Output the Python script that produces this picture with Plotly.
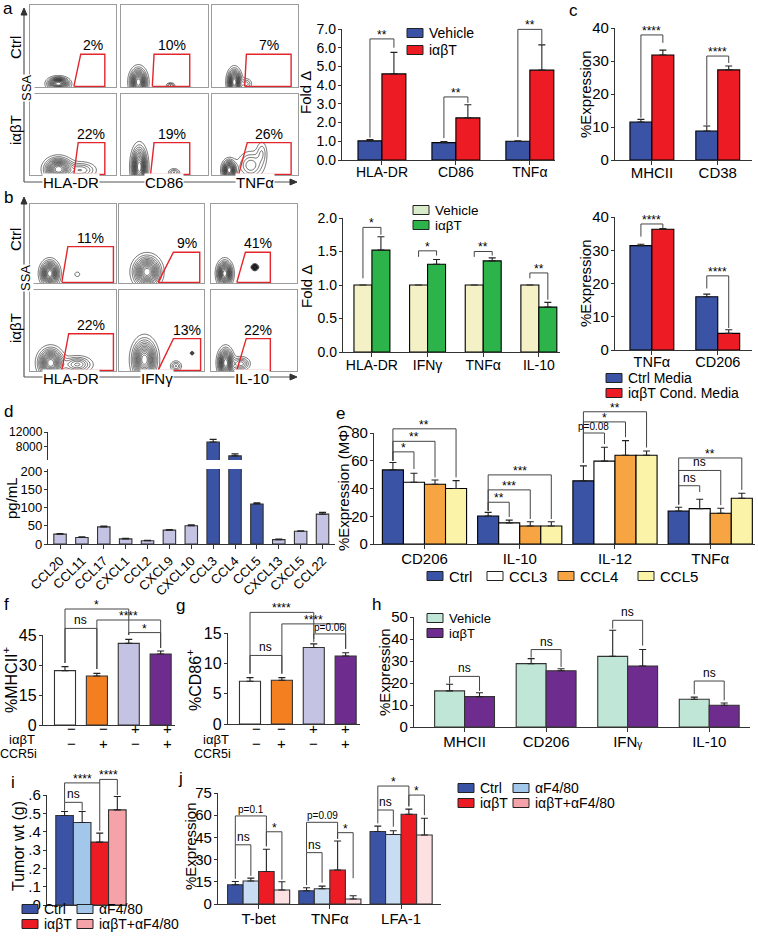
import numpy as np
import plotly.graph_objects as go

W, H = 758, 945
FONT = "Liberation Sans, Arial, Helvetica, sans-serif"
AX = "#333333"

# ------------------------------------------------------------------ colours
BLUE = "#3a53a4"; RED = "#ed1c24"; GREEN = "#2cb34a"; PALE = "#f3f1c5"
LAV = "#c5c3e3"; ORANGE_E = "#f7a443"; YELLOW_E = "#fbf4a8"; ORANGE_F = "#f47f20"
PURPLE = "#6f2c8f"; MINT = "#c0e6d7"; LBLUE_I = "#a2c7ea"; PINK_I = "#f5a3a8"
LBLUE_J = "#c9ddf2"; PINK_J = "#fde0e2"; WHITE = "#ffffff"; GATE = "#e3262c"

# ------------------------------------------------------------------ DATA
# panel a (flow)
flow_a_markers = ["HLA-DR", "CD86", "TNFα"]
flow_a_pct = [["2%", "10%", "7%"], ["22%", "19%", "26%"]]
flow_a_gates = [[(51, 59, 87, 40), (36, 38, 79, 40), (38, 40, 92, 40)],
                [(51, 56, 87, 40), (34, 38, 79, 40), (31, 41, 92, 40)]]
flow_a_blobs = [[[(33, 4, 7, 4.5, 1.0)],
                 [(20, 6, 5.5, 9.5, 1.0), (57, 2, 3, 2, 0.3)],
                 [(26, 6, 4.5, 9, 1.0), (40, 4, 4, 4, 0.25)]],
                [[(33, 7, 9, 8, 1.0), (60, 6, 10, 6, 0.35)],
                 [(21, 10, 5, 14, 1.0), (61, 3, 4, 3, 0.3)],
                 [(20, 6, 4.5, 7, 1.0), (45, 12, 9, 10, 0.35), (58, 28, 4, 9, 0.2)]]]
# panel b (flow)
flow_b_markers = ["HLA-DR", "IFNγ", "IL-10"]
flow_b_pct = [["11%", "9%", "41%"], ["22%", "13%", "22%"]]
flow_b_gates = [[(37, 44, 97, 46), (46, 64, 95, 39), (30, 40, 69, 39)],
                [(37, 45, 97, 46), (46, 64, 96, 40), (30, 41, 69, 40)]]
flow_b_blobs = [[[(23, 12, 6, 9, 1.0), (55, 11, 2.5, 2.5, 0.15)],
                 [(33, 14, 9, 11, 1.0)],
                 [(16, 12, 5, 9, 1.0), (51, 20, 2, 2, 1.0)]],
                [[(24, 10, 8, 10, 1.0), (55, 8, 10, 6, 0.45)],
                 [(30, 14, 8, 14, 1.0), (67, 6, 4, 4, 0.3), (86, 22, 1.2, 1.2, 0.4)],
                 [(17, 10, 5, 10, 1.0), (35, 9, 6, 5, 0.4)]]]
flow_rows = ["Ctrl", "iαβT"]

# panel a (bars)
cats_a = ["HLA-DR", "CD86", "TNFα"]
a_vehicle = [1.02, 0.93, 1.00]; a_vehicle_err = [0.07, 0.05, 0.03]
a_iabt = [4.60, 2.25, 4.80];    a_iabt_err = [1.15, 0.70, 1.35]
a_brackets = [(0, 0, 1, 6.47, 1.2, 6.0, "**"), (1, 0, 1, 3.37, 1.17, 3.05, "**"),
              (2, 0, 1, 6.98, 1.23, 6.15, "**")]

# panel b (bars)
cats_b = ["HLA-DR", "IFNγ", "TNFα", "IL-10"]
b_vehicle = [1.0, 1.0, 1.0, 1.0]; b_vehicle_err = [0, 0, 0, 0]
b_iabt = [1.52, 1.31, 1.36, 0.67]; b_iabt_err = [0.20, 0.07, 0.045, 0.07]
b_brackets = [(0, 0, 1, 1.86, 1.1, 1.75, "*"), (1, 0, 1, 1.51, 1.42, 1.44, "*"),
              (2, 0, 1, 1.50, 1.42, 1.44, "**"), (3, 0, 1, 1.18, 1.1, 0.78, "**")]

# panel c
cats_c1 = ["MHCII", "CD38"]
c1_ctrl = [11.5, 8.8]; c1_ctrl_err = [0.8, 1.5]
c1_cond = [31.8, 27.3]; c1_cond_err = [1.5, 1.2]
c1_brackets = [(0, 0, 1, 37.9, 12.8, 35.5, "****"), (1, 0, 1, 31.5, 10.5, 29.4, "****")]
cats_c2 = ["TNFα", "CD206"]
c2_ctrl = [31.4, 16.0]; c2_ctrl_err = [0.4, 0.8]
c2_cond = [36.3, 5.0]; c2_cond_err = [0.2, 1.1]
c2_brackets = [(0, 0, 1, 37.9, 34.1, 36.6, "****"), (1, 0, 1, 22.3, 18.5, 6.6, "****")]

# panel d
cats_d = ["CCL20", "CCL11", "CCL17", "CXCL1", "CCL2", "CXCL9", "CXCL10",
          "CCL3", "CCL4", "CCL5", "CXCL13", "CXCL5", "CCL22"]
d_values = [27, 18, 47, 14, 9, 38, 50, 9300, 5550, 110, 12, 35, 82]
d_err = [1.5, 1.5, 2, 1.5, 1, 1.5, 3, 700, 550, 3, 1.5, 1.5, 5]
d_highlight = ["CCL3", "CCL4", "CCL5"]

# panel e
cats_e = ["CD206", "IL-10", "IL-12", "TNFα"]
e_names = ["Ctrl", "CCL3", "CCL4", "CCL5"]
e_ctrl = [53.4, 20.2, 45.5, 23.8]; e_ctrl_err = [5.3, 2.6, 10.8, 2.7]
e_ccl3 = [44.5, 15.2, 59.7, 25.5]; e_ccl3_err = [6.5, 2.0, 10.0, 6.8]
e_ccl4 = [43.1, 13.0, 64.0, 22.2]; e_ccl4_err = [3.0, 3.0, 10.5, 3.6]
e_ccl5 = [40.0, 13.0, 64.0, 33.0]; e_ccl5_err = [5.7, 3.0, 3.0, 3.6]
e_brackets = [(0, 0, 1, 66.4, 60, 54, "*"), (0, 0, 2, 74, 60, 48, "**"), (0, 0, 3, 83, 60, 48, "**"),
              (1, 0, 1, 30.1, 24, 19.5, "**"), (1, 0, 2, 39, 24, 18, "***"), (1, 0, 3, 49.8, 24, 18, "***"),
              (2, 0, 1, 80, 58.5, 72, "p=0.08"), (2, 0, 2, 88, 58.5, 77, "*"), (2, 0, 3, 95.3, 58.5, 69.5, "**"),
              (3, 0, 1, 42, 28.5, 37.5, "ns"), (3, 0, 2, 53, 28.5, 28, "ns"), (3, 0, 3, 62, 28.5, 39, "**")]

# panels f, g
fg_iabt = ["−", "−", "+", "+"]
fg_ccr5i = ["−", "+", "−", "+"]
f_values = [27.2, 24.5, 40.8, 35.5]; f_err = [2.0, 1.3, 2.0, 1.5]
f_brackets = [(0, 2, 58, 31, 45, "*"), (0, 1, 48.3, 31, 28, "ns"),
              (1, 3, 52.5, 28, 38.5, "****"), (2, 3, 46.2, 45, 38.5, "*")]
g_values = [7.05, 7.2, 12.6, 11.2]; g_err = [0.6, 0.45, 0.6, 0.55]
g_brackets = [(0, 2, 18.4, 8.3, 14, "****"), (0, 1, 11.3, 8.3, 8.3, "ns"),
              (1, 3, 16.5, 8.3, 12.4, "****"), (2, 3, 14.85, 13.5, 12.4, "p=0.06")]

# panel h
cats_h = ["MHCII", "CD206", "IFNᵧ", "IL-10"]
h_vehicle = [16.4, 28.8, 32.1, 12.6]; h_vehicle_err = [3.0, 2.3, 11.9, 1.0]
h_iabt = [13.8, 25.6, 27.7, 9.9];     h_iabt_err = [1.8, 0.9, 7.5, 1.0]
h_brackets = [(0, 0, 1, 23, 19.8, 16.4, "ns"), (1, 0, 1, 35.2, 31.5, 27.3, "ns"),
              (2, 0, 1, 48.5, 44.7, 37, "ns"), (3, 0, 1, 20.9, 14.9, 12.1, "ns")]

# panel i
i_groups = ["Ctrl", "αF4/80", "iαβT", "iαβT+αF4/80"]
i_values = [0.488, 0.45, 0.343, 0.519]; i_err = [0.022, 0.06, 0.049, 0.073]
i_brackets = [(0, 1, 0.56, 0.515, 0.515, "ns"), (0, 2, 0.666, 0.56, 0.405, "****"),
              (2, 3, 0.685, 0.666, 0.60, "****")]

# panel j
cats_j = ["T-bet", "TNFα", "LFA-1"]
j_ctrl = [13, 9, 49];        j_ctrl_err = [2.2, 2.0, 3.6]
j_af = [15.5, 10.3, 47];     j_af_err = [2.0, 1.8, 2.5]
j_iabt = [22, 23, 60.6];     j_iabt_err = [15, 19.6, 3.5]
j_combo = [9.5, 3.4, 46.6];  j_combo_err = [5.5, 2.2, 11.3]
j_brackets = [(0, 0, 1, 40, 17, 19, "ns"), (0, 0, 2, 59.5, 40, 39, "p=0.1"), (0, 2, 3, 48.8, 39, 16.5, "*"),
              (1, 0, 1, 34.7, 12.8, 14.4, "ns"), (1, 0, 2, 55.2, 34.7, 44, "p=0.09"), (1, 2, 3, 48.2, 44, 17.4, "*"),
              (2, 0, 1, 63.5, 54.5, 52.2, "ns"), (2, 0, 2, 79.7, 63.5, 66, "*"), (2, 2, 3, 73.6, 66, 60, "*")]

# ------------------------------------------------------------------ helpers
traces, shapes, annotations = [], [], []
layout = dict(width=W, height=H, margin=dict(l=0, r=0, t=0, b=0, pad=0, autoexpand=False),
              paper_bgcolor="white", plot_bgcolor="rgba(0,0,0,0)",
              font=dict(family=FONT, size=14, color="black"),
              barmode="overlay", showlegend=False)

P = {}


def panel(name, n, xpx, ypx, xr, yr, w=None, nk=1):
    P[name] = dict(n=n, xpx=xpx, ypx=ypx, xr=xr, yr=yr, w=w, nk=nk)


def sfx(n):
    return "" if n == 1 else str(n)


def xp(name, v):
    p = P[name]; x0, x1 = p["xpx"]; r0, r1 = p["xr"]
    return (x0 + (v - r0) / (r1 - r0) * (x1 - x0)) / W


def yp(name, v):
    p = P[name]; top, bot = p["ypx"]; r0, r1 = p["yr"]
    return 1 - (bot - (v - r0) / (r1 - r0) * (bot - top)) / H


def PX(x):
    return x / W


def PY(y):
    return 1 - y / H


def set_axes(name, xtickvals=None, xticktext=None, ytickvals=None, yticktext=None,
             xfont=14, yfont=14, xline=True, xticks="outside", xangle=None, xstandoff=-4):
    p = P[name]; s = sfx(p["n"])
    x0, x1 = p["xpx"]; top, bot = p["ypx"]
    xa = dict(domain=[x0 / W, x1 / W], range=p["xr"], anchor="y" + s, showgrid=False,
              zeroline=False, showline=xline, linecolor=AX, linewidth=1.3, ticks=xticks,
              ticklen=4, tickwidth=1.2, tickcolor=AX, fixedrange=True, automargin=False,
              showticklabels=xticktext is not None, tickfont=dict(size=xfont),
              ticklabelstandoff=xstandoff)
    if xtickvals is not None:
        xa.update(tickmode="array", tickvals=xtickvals, ticktext=xticktext)
    if xangle is not None:
        xa["tickangle"] = xangle
    ya = dict(domain=[1 - bot / H, 1 - top / H], range=p["yr"], anchor="x" + s, showgrid=False,
              zeroline=False, showline=True, linecolor=AX, linewidth=1.3, ticks="outside",
              ticklen=3, tickwidth=1.2, tickcolor=AX, fixedrange=True, automargin=False,
              ticklabelstandoff=-1,
              tickmode="array", tickvals=ytickvals, ticktext=yticktext, tickfont=dict(size=yfont))
    layout["xaxis" + s] = xa
    layout["yaxis" + s] = ya


def add_bars(name, y, err, color, k=0, lc="black", x=None):
    p = P[name]; s = sfx(p["n"]); w = p["w"]; nk = p["nk"]
    if x is None:
        x = list(range(len(y)))
    traces.append(go.Bar(
        x=x, y=y, width=w, offset=-nk * w / 2 + k * w,
        xaxis="x" + s, yaxis="y" + s,
        marker=dict(color=color, line=dict(color=lc, width=1.1)),
        error_y=dict(type="data", array=err, arrayminus=[0] * len(err), symmetric=False,
                     color="#222", thickness=1.1, width=3.5),
        hoverinfo="skip"))


def center(name, g, k):
    p = P[name]; w = p["w"]; nk = p["nk"]
    return g - nk * w / 2 + w * (k + 0.5)


def bracket(name, xa, xb, top, ya, yb, text):
    x1, x2 = xp(name, xa), xp(name, xb)
    yt, y1, y2 = yp(name, top), yp(name, ya), yp(name, yb)
    shapes.append(dict(type="path", xref="paper", yref="paper",
                       path=f"M{x1},{y1} L{x1},{yt} L{x2},{yt} L{x2},{y2}",
                       line=dict(color="#444", width=1)))
    star = text.startswith("*")
    fs = 12 if (star or text == "ns") else 10
    annotations.append(dict(x=(x1 + x2) / 2, y=yt, xref="paper", yref="paper", text=text,
                            showarrow=False, xanchor="center", yanchor="bottom",
                            yshift=-5 if star else -1, font=dict(size=fs)))


def grouped_brackets(name, lst):
    for g, k1, k2, top, ya, yb, t in lst:
        bracket(name, center(name, g, k1), center(name, g, k2), top, ya, yb, t)


def single_brackets(name, lst):
    for i1, i2, top, ya, yb, t in lst:
        bracket(name, i1, i2, top, ya, yb, t)


def text(px, py, t, size=14, xanchor="center", yanchor="middle", angle=0, bg=None):
    a = dict(x=PX(px), y=PY(py), xref="paper", yref="paper", text=t, showarrow=False,
             xanchor=xanchor, yanchor=yanchor, textangle=angle, font=dict(size=size))
    if bg:
        a["bgcolor"] = bg
        a["borderpad"] = 0
    annotations.append(a)


def legend_item(px, py, color, label, sw=16, sh=9, size=14):
    shapes.append(dict(type="rect", xref="paper", yref="paper",
                       x0=PX(px), x1=PX(px + sw), y0=PY(py + sh / 2), y1=PY(py - sh / 2),
                       fillcolor=color, line=dict(color="#222", width=1)))
    text(px + sw + 4, py, label, size=size, xanchor="left")


def pxpath(points, fill="black"):
    path = "M" + " L".join(f"{PX(x)},{PY(y)}" for x, y in points) + " Z"
    shapes.append(dict(type="path", xref="paper", yref="paper", path=path,
                       fillcolor=fill, line=dict(color=fill, width=1)))


def pxline(x0, y0, x1, y1, color="#555", width=1.2):
    shapes.append(dict(type="line", xref="paper", yref="paper", x0=PX(x0), y0=PY(y0),
                       x1=PX(x1), y1=PY(y1), line=dict(color=color, width=width)))


# ------------------------------------------------------------------ flow plots
GX, GY = np.meshgrid(np.linspace(0, 100, 101), np.linspace(0, 100, 101))
axis_n = 13


def flow_block(cols, rows, gates, pcts, blobs, markers, vline, hline_y, row_lbl_y, ssa_y, marker_x):
    global axis_n
    for r, (ytop, ybot) in enumerate(rows):
        for c, (xl, xr) in enumerate(cols):
            n = axis_n; axis_n += 1; s = str(n)
            layout["xaxis" + s] = dict(domain=[xl / W, xr / W], range=[0, 100], anchor="y" + s,
                                       showgrid=False, zeroline=False, showline=True, mirror=True,
                                       linecolor="#9c9c9c", linewidth=1, showticklabels=False,
                                       ticks="", fixedrange=True, automargin=False)
            layout["yaxis" + s] = dict(domain=[1 - ybot / H, 1 - ytop / H], range=[0, 100],
                                       anchor="x" + s, showgrid=False, zeroline=False, showline=True,
                                       mirror=True, linecolor="#9c9c9c", linewidth=1,
                                       showticklabels=False, ticks="", fixedrange=True,
                                       automargin=False)
            z = np.zeros_like(GX)
            for cx, cy, sx, sy, amp in blobs[r][c]:
                z += amp * np.exp(-((GX - cx) ** 2 / (2 * sx ** 2) + (GY - cy) ** 2 / (2 * sy ** 2)))
            traces.append(go.Contour(x=GX[0], y=GY[:, 0], z=z, xaxis="x" + s, yaxis="y" + s,
                                     contours=dict(coloring="lines", start=0.08, end=0.98, size=0.07),
                                     line=dict(width=0.6), colorscale=[[0, "#111"], [1, "#111"]],
                                     showscale=False, hoverinfo="skip"))
            bl, tl, tr, top = gates[r][c]
            traces.append(go.Scatter(x=[bl, tl, tr, tr, bl], y=[0.8, top, top, 0.8, 0.8],
                                     mode="lines", line=dict(color=GATE, width=1.4),
                                     xaxis="x" + s, yaxis="y" + s, hoverinfo="skip"))
            annotations.append(dict(x=(tl + tr) / 2, y=top, xref="x" + s, yref="y" + s,
                                    text=pcts[r][c], showarrow=False, yanchor="bottom",
                                    yshift=-1, font=dict(size=14)))
    vx, vtop = vline
    pxline(vx, hline_y, vx, vtop + 5)
    pxpath([(vx - 3, vtop + 7), (vx, vtop), (vx + 3, vtop + 7)], fill="#333")
    pxline(vx, hline_y, 292, hline_y)
    pxpath([(290, hline_y - 3), (297, hline_y), (290, hline_y + 3)], fill="#333")
    for mx, m in zip(marker_x, markers):
        text(mx, hline_y + 1, m, size=15, bg="white")
    text(vx + 2, ssa_y, "SSA", size=13, angle=-90, bg="white")
    for ry, lbl in zip(row_lbl_y, flow_rows):
        text(15, ry, lbl, size=15, angle=-90)


flow_block(cols=[(30, 116), (121, 208), (212, 298)], rows=[(5, 87), (94, 175)],
           gates=flow_a_gates, pcts=flow_a_pct, blobs=flow_a_blobs, markers=flow_a_markers,
           vline=(24, 8), hline_y=182, row_lbl_y=[48, 130], ssa_y=88, marker_x=[71, 164, 255])
flow_block(cols=[(30, 116), (119, 204), (211, 297)], rows=[(204, 283), (290, 371)],
           gates=flow_b_gates, pcts=flow_b_pct, blobs=flow_b_blobs, markers=flow_b_markers,
           vline=(24, 197), hline_y=377, row_lbl_y=[240, 328], ssa_y=278, marker_x=[71, 157, 252])

# ------------------------------------------------------------------ panel a bars
panel("a", 1, (342, 555), (29, 160), [-0.54, 2.34], [0, 7], w=0.324, nk=2)
set_axes("a", list(range(3)), cats_a, list(range(8)), [f"{v:.1f}" for v in range(8)], yfont=14,
         xstandoff=-5)
add_bars("a", a_vehicle, a_vehicle_err, BLUE, 0)
add_bars("a", a_iabt, a_iabt_err, RED, 1)
grouped_brackets("a", a_brackets)

# ------------------------------------------------------------------ panel b bars
panel("b", 3, (343, 560), (218, 352), [-0.52, 3.38], [0, 2], w=0.323, nk=2)
set_axes("b", list(range(4)), cats_b, [0, 0.5, 1, 1.5, 2], ["0.0", "0.5", "1.0", "1.5", "2.0"])
add_bars("b", b_vehicle, b_vehicle_err, PALE, 0)
add_bars("b", b_iabt, b_iabt_err, GREEN, 1)
grouped_brackets("b", b_brackets)

# ------------------------------------------------------------------ panel c
panel("c1", 2, (615, 752), (28, 160), [-0.56, 1.52], [0, 40], w=0.333, nk=2)
set_axes("c1", [0, 1], cats_c1, [0, 10, 20, 30, 40], ["0", "10", "20", "30", "40"], xfont=15, yfont=15,
         xstandoff=-5)
add_bars("c1", c1_ctrl, c1_ctrl_err, BLUE, 0)
add_bars("c1", c1_cond, c1_cond_err, RED, 1)
grouped_brackets("c1", c1_brackets)

panel("c2", 4, (615, 752), (217, 350), [-0.56, 1.52], [0, 40], w=0.333, nk=2)
set_axes("c2", [0, 1], cats_c2, [0, 10, 20, 30, 40], ["0", "10", "20", "30", "40"], xfont=14.5, yfont=15,
         xstandoff=-6)
add_bars("c2", c2_ctrl, c2_ctrl_err, BLUE, 0)
add_bars("c2", c2_cond, c2_cond_err, RED, 1)
grouped_brackets("c2", c2_brackets)

# ------------------------------------------------------------------ panel d (broken axis)
d_colors = [BLUE if c in d_highlight else LAV for c in cats_d]
panel("d_up", 5, (48, 335), (432, 460), [-0.55, 12.57], [4450, 12000], w=0.57, nk=1)
set_axes("d_up", None, None, [8000, 12000], ["8000", "12000"], yfont=12, xline=False, xticks="",
         xstandoff=0)
add_bars("d_up", d_values, d_err, d_colors, 0, lc="#333")
panel("d_lo", 6, (48, 335), (469, 544), [-0.55, 12.57], [0, 206], w=0.57, nk=1)
set_axes("d_lo", list(range(len(cats_d))), cats_d, [0, 50, 100, 150, 200],
         ["0", "50", "100", "150", "200"], xfont=13, yfont=13, xangle=-45, xstandoff=-1)
add_bars("d_lo", d_values, d_err, d_colors, 0, lc="#333")

# ------------------------------------------------------------------ panel e
panel("e", 7, (374, 755), (433, 544), [-0.53, 3.47], [0, 80], w=0.221, nk=4)
set_axes("e", list(range(4)), cats_e, [0, 20, 40, 60, 80], ["0", "20", "40", "60", "80"], xfont=15, yfont=15,
         xstandoff=-3)
for k, (vals, errs, col) in enumerate([(e_ctrl, e_ctrl_err, BLUE), (e_ccl3, e_ccl3_err, WHITE),
                                       (e_ccl4, e_ccl4_err, ORANGE_E), (e_ccl5, e_ccl5_err, YELLOW_E)]):
    add_bars("e", vals, errs, col, k)
grouped_brackets("e", e_brackets)

# ------------------------------------------------------------------ panels f & g
fg_colors = [WHITE, ORANGE_F, LAV, PURPLE]
panel("f", 8, (43, 175), (635, 725), [-0.69, 3.45], [0, 45], w=0.66, nk=1)
set_axes("f", None, None, [0, 15, 30, 45], ["0", "15", "30", "45"], yfont=16, xticks="")
add_bars("f", f_values, f_err, fg_colors, 0, lc="#333")
single_brackets("f", f_brackets)

panel("g", 9, (228, 360), (633, 724), [-0.69, 3.45], [0, 15], w=0.66, nk=1)
set_axes("g", None, None, [0, 5, 10, 15], ["0", "5", "10", "15"], yfont=16, xticks="")
add_bars("g", g_values, g_err, fg_colors, 0, lc="#333")
single_brackets("g", g_brackets)

for name, lx in (("f", 37), ("g", 231)):
    text(lx, 739, "iαβT", size=13, xanchor="right")
    text(lx + 2, 754, "CCR5i", size=12.5, xanchor="right")
    for i in range(4):
        annotations.append(dict(x=xp(name, i), y=PY(739), xref="paper", yref="paper",
                                text=fg_iabt[i], showarrow=False, font=dict(size=15)))
        annotations.append(dict(x=xp(name, i), y=PY(754), xref="paper", yref="paper",
                                text=fg_ccr5i[i], showarrow=False, font=dict(size=15)))

# ------------------------------------------------------------------ panel h
panel("h", 10, (414, 750), (617, 727), [-0.62, 3.5], [0, 50], w=0.367, nk=2)
set_axes("h", list(range(4)), cats_h, [0, 10, 20, 30, 40, 50], ["0", "10", "20", "30", "40", "50"],
         xfont=15, yfont=15, xstandoff=-3)
add_bars("h", h_vehicle, h_vehicle_err, MINT, 0, lc="#333")
add_bars("h", h_iabt, h_iabt_err, PURPLE, 1, lc="#333")
grouped_brackets("h", h_brackets)

# ------------------------------------------------------------------ panel i
panel("i", 11, (47, 127), (795, 905), [-1.0, 3.55], [0, 0.6], w=1.0, nk=1)
set_axes("i", None, None, [0, .1, .2, .3, .4, .5, .6], ["0", ".1", ".2", ".3", ".4", ".5", ".6"],
         yfont=15, xticks="")
add_bars("i", i_values, i_err, [BLUE, LBLUE_I, RED, PINK_I], 0, lc="#333")
single_brackets("i", i_brackets)

# ------------------------------------------------------------------ panel j
panel("j", 12, (218, 441), (793, 904), [-0.57, 2.56], [0, 75], w=0.218, nk=4)
set_axes("j", list(range(3)), cats_j, [0, 15, 30, 45, 60, 75], ["0", "15", "30", "45", "60", "75"],
         xfont=15, yfont=15, xstandoff=-3)
for k, (vals, errs, col) in enumerate([(j_ctrl, j_ctrl_err, BLUE), (j_af, j_af_err, LBLUE_J),
                                       (j_iabt, j_iabt_err, RED), (j_combo, j_combo_err, PINK_J)]):
    add_bars("j", vals, errs, col, k, lc="#333")
grouped_brackets("j", j_brackets)

# ------------------------------------------------------------------ axis titles
text(306, 93, "Fold Δ", size=15, angle=-90)
text(306, 287, "Fold Δ", size=15, angle=-90)
text(585, 94, "%Expression", size=15, angle=-90)
text(585, 283, "%Expression", size=15, angle=-90)
text(11, 498, "pg/mL", size=15, angle=-90)
text(343, 488, "%Expression (MΦ)", size=15, angle=-90)
text(10, 680, "%MHCII<sup>+</sup>", size=16, angle=-90)
text(194, 680, "%CD86<sup>+</sup>", size=16, angle=-90)
text(384, 672, "%Expression", size=15, angle=-90)
text(18, 846, "Tumor wt (g)", size=16, angle=-90)
text(190, 846, "%Expression", size=15, angle=-90)

# ------------------------------------------------------------------ legends
legend_item(407, 33, BLUE, "Vehicle")
legend_item(407, 50, RED, "iαβT")
legend_item(413, 210, "#d8ecc9", "Vehicle", size=13.5)
legend_item(413, 225, GREEN, "iαβT", size=13.5)
legend_item(606, 378, BLUE, "Ctrl Media")
legend_item(606, 393, RED, "iαβT Cond. Media")
for lx, col, lbl in zip([427, 487, 558, 638], [BLUE, WHITE, ORANGE_E, YELLOW_E], e_names):
    legend_item(lx, 576, col, lbl, size=15)
legend_item(427, 618, MINT, "Vehicle", size=13)
legend_item(427, 633, PURPLE, "iαβT", size=13)
legend_item(22, 909, BLUE, i_groups[0]); legend_item(77, 909, LBLUE_I, i_groups[1])
legend_item(22, 924, RED, i_groups[2]); legend_item(77, 924, PINK_I, i_groups[3])
legend_item(458, 788, BLUE, i_groups[0]); legend_item(513, 788, LBLUE_I, i_groups[1])
legend_item(458, 803, RED, i_groups[2]); legend_item(513, 803, PINK_I, i_groups[3])

# ------------------------------------------------------------------ panel letters
for lx, ly, l in [(8, 8, "a"), (8, 197, "b"), (573, 10, "c"), (8, 412, "d"), (340, 413, "e"),
                  (6, 604, "f"), (180, 605, "g"), (376, 604, "h"), (13, 782, "i"), (180, 778, "j")]:
    text(lx, ly, l, size=17)

layout["shapes"] = shapes
layout["annotations"] = annotations
fig = go.Figure(data=traces, layout=layout)
fig.write_html("out.html", config={"displayModeBar": False},
               post_script="document.body.style.margin='0px';")
